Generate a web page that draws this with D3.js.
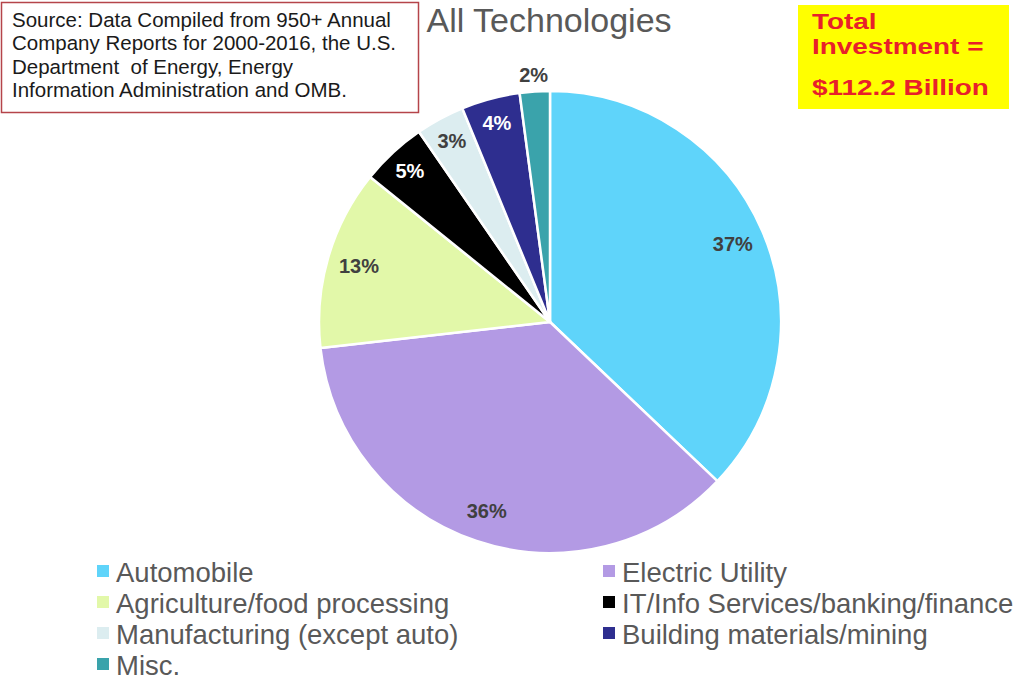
<!DOCTYPE html>
<html><head><meta charset="utf-8">
<script src="https://cdn.jsdelivr.net/npm/d3@7"></script>
<style>body{margin:0;background:#fff}svg{display:block;font-family:"Liberation Sans",Arial,sans-serif}</style>
</head><body><svg id="c" width="1021" height="683"></svg>
<script>
const categories = ["Automobile","Electric Utility","Agriculture/food processing","IT/Info Services/banking/finance","Manufacturing (except auto)","Building materials/mining","Misc."];
const values = [37.1, 36.1, 12.6, 4.6, 3.4, 4.1, 2.1];
const colors = ["#5fd4fa","#b39ae4","#e2f8a9","#000000","#dcedf0","#2e2e8f","#3aa3ab"];
const labelColors = ["#404040","#404040","#404040","#ffffff","#404040","#ffffff","#404040"];
const sourceLines = ["Source: Data Compiled from 950+ Annual","Company Reports for 2000-2016, the U.S.","Department  of Energy, Energy","Information Administration and OMB."];
const totalLines = ["Total","Investment =","$112.2 Billion"];

const svg = d3.select("#c");
const cx = 550, cy = 322, R = 231;
const data = categories.map((c,i)=>({cat:c, value:values[i], color:colors[i], lc:labelColors[i]}));
const pie = d3.pie().value(d=>d.value).sort(null);
const arcs = pie(data);
const arc = d3.arc().innerRadius(0).outerRadius(R);
const g = svg.append("g").attr("transform",`translate(${cx},${cy})`);
g.selectAll("path").data(arcs).join("path").attr("d",arc).attr("fill",d=>d.data.color)
  .attr("stroke","#fff").attr("stroke-width",2.5).attr("stroke-linejoin","round");
const fmt = v => Math.round(v) + "%";
g.selectAll("text.lbl").data(arcs).join("text").attr("class","lbl")
  .each(function(d){
    const a = (d.startAngle+d.endAngle)/2;
    const r = d.data.value < 3 ? 248 : (d.data.value < 6 ? 206 : 199);
    d3.select(this).attr("x", r*Math.sin(a)).attr("y", -r*Math.cos(a));
  })
  .attr("text-anchor","middle").attr("dominant-baseline","central")
  .attr("font-size",20).attr("font-weight","bold")
  .attr("fill",d=>d.data.lc).text(d=>fmt(d.data.value));

// title
svg.append("text").attr("x",549).attr("y",31.5).attr("text-anchor","middle")
  .attr("font-size",34).attr("fill","#595959").text("All Technologies");

// source box
svg.append("rect").attr("x",1.5).attr("y",2.5).attr("width",417).attr("height",110)
  .attr("fill","#fff").attr("stroke","#b5444a").attr("stroke-width",1.5);
svg.append("g").selectAll("text").data(sourceLines).join("text")
  .attr("x",12).attr("y",(d,i)=>27+i*23.3).attr("font-size",20.5).attr("fill","#1a1a1a")
  .attr("xml:space","preserve").style("white-space","pre").text(d=>d);

// total box
svg.append("rect").attr("x",798).attr("y",5).attr("width",211).attr("height",104).attr("fill","#ffff00");
svg.append("g").selectAll("text").data(totalLines).join("text")
  .attr("transform",(d,i)=>`translate(812,${[29,54,95][i]}) scale(1.27,1)`)
  .attr("font-size",22).attr("font-weight","bold")
  .attr("fill","#e8202a").text(d=>d);

// legend
const leg = svg.append("g");
const items = leg.selectAll("g").data(data).join("g")
  .attr("transform",(d,i)=>`translate(${i%2===0?97:603},${571+Math.floor(i/2)*31})`);
items.append("rect").attr("x",0).attr("y",-6).attr("width",12).attr("height",12).attr("fill",d=>d.color);
items.append("text").attr("x",19).attr("y",1).attr("dominant-baseline","central")
  .attr("font-size",27.5).attr("fill","#595959").text(d=>d.cat);
</script></body></html>
